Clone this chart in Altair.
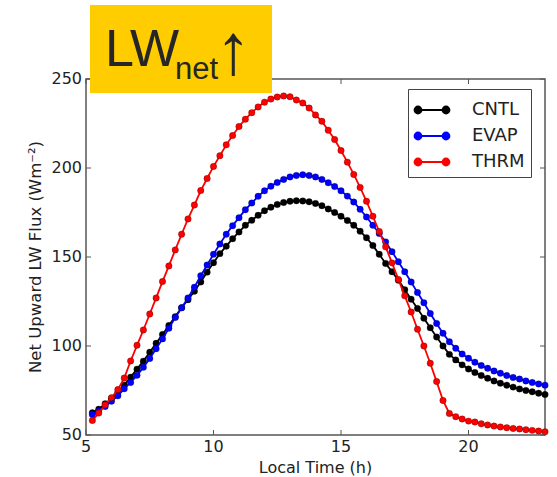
import altair as alt
import pandas as pd

# ---------------- data ----------------
hours = [5.25, 5.5, 5.75, 6.0, 6.25, 6.5, 6.75, 7.0, 7.25, 7.5, 7.75, 8.0,
         8.25, 8.5, 8.75, 9.0, 9.25, 9.5, 9.75, 10.0, 10.25, 10.5, 10.75, 11.0,
         11.25, 11.5, 11.75, 12.0, 12.25, 12.5, 12.75, 13.0, 13.25, 13.5, 13.75, 14.0,
         14.25, 14.5, 14.75, 15.0, 15.25, 15.5, 15.75, 16.0, 16.25, 16.5, 16.75, 17.0,
         17.25, 17.5, 17.75, 18.0, 18.25, 18.5, 18.75, 19.0, 19.25, 19.5, 19.75, 20.0,
         20.25, 20.5, 20.75, 21.0, 21.25, 21.5, 21.75, 22.0, 22.25, 22.5, 22.75, 23.0]

cntl = [62.5, 64.5, 67.5, 70.5, 74.0, 78.0, 82.5, 87.0, 91.5, 96.5, 101.5, 106.5,
        111.5, 116.5, 121.5, 126.0, 130.8, 136.0, 141.5, 146.8, 151.9, 156.1, 160.3, 164.1,
        167.8, 170.6, 173.4, 176.0, 178.0, 179.5, 180.6, 181.3, 181.6, 181.5, 181.0, 180.1,
        178.8, 177.0, 175.0, 172.9, 170.5, 167.8, 164.5, 160.8, 156.4, 151.5, 146.4, 141.7,
        137.0, 131.6, 126.3, 121.1, 115.6, 110.2, 105.0, 100.0, 95.3, 92.2, 89.4, 87.1,
        85.1, 83.4, 81.9, 80.4, 79.1, 78.0, 76.9, 75.9, 75.0, 74.3, 73.5, 72.7]

evap = [61.5, 63.5, 66.0, 69.0, 72.0, 76.0, 79.5, 83.5, 88.0, 93.0, 98.5, 104.0,
        110.0, 116.0, 121.5, 127.0, 133.0, 139.5, 145.5, 151.5, 157.3, 162.8, 167.6, 172.1,
        176.6, 180.3, 184.1, 187.2, 189.8, 191.9, 193.6, 195.0, 195.8, 196.2, 195.8, 195.0,
        193.6, 191.7, 189.6, 187.2, 184.2, 180.9, 176.8, 172.5, 167.8, 163.2, 158.5, 153.0,
        147.3, 141.7, 136.0, 130.0, 124.3, 118.3, 112.7, 107.1, 102.4, 98.7, 95.5, 93.1,
        90.9, 89.0, 87.5, 86.0, 84.7, 83.4, 82.3, 81.4, 80.4, 79.5, 78.7, 78.0]

thrm = [58.2, 62.3, 67.0, 71.0, 75.5, 82.0, 91.6, 100.4, 109.0, 118.0, 127.0, 136.2,
        145.0, 154.0, 162.8, 171.4, 179.2, 187.3, 194.1, 200.9, 206.9, 213.0, 218.2, 223.3,
        227.4, 231.1, 234.3, 237.0, 238.7, 239.9, 240.5, 240.0, 238.2, 236.5, 233.7, 229.8,
        226.2, 221.2, 216.0, 209.8, 203.3, 196.4, 189.1, 181.3, 172.9, 164.3, 155.7, 146.7,
        137.4, 128.2, 119.1, 109.4, 100.0, 90.3, 80.0, 69.4, 62.1, 60.3, 59.0, 57.8,
        57.3, 56.3, 55.6, 55.0, 54.5, 54.1, 53.7, 53.4, 53.0, 52.6, 52.2, 51.8]

series_names = ["CNTL", "EVAP", "THRM"]
series_colors = ["#000000", "#0000ff", "#ff0000"]
x_ticks = [5, 10, 15, 20]
y_ticks = [50, 100, 150, 200, 250]
x_title = "Local Time (h)"
y_title = "Net Upward LW Flux (Wm\u207b\u00b2)"
title_parts = ["LW", "net", "\u2191"]

# ---------------- layout ----------------
W, H = 459, 356
FRAME = "#555555"
TXT = "#222222"
FONT = "DejaVu Sans"

rows = []
for name, vals in zip(series_names, [cntl, evap, thrm]):
    for h, v in zip(hours, vals):
        rows.append({"hour": h, "flux": v, "series": name})
df = pd.DataFrame(rows)

xscale = alt.Scale(domain=[5, 23], nice=False, zero=False)
yscale = alt.Scale(domain=[50, 250], nice=False, zero=False)
cscale = alt.Scale(domain=series_names, range=series_colors)

leg_path = ("M-1,0L1,0"
            "M-1.25,0A0.25,0.25,0,1,0,-0.75,0A0.25,0.25,0,1,0,-1.25,0Z"
            "M0.75,0A0.25,0.25,0,1,0,1.25,0A0.25,0.25,0,1,0,0.75,0Z")

legend = alt.Legend(title=None, orient="none", legendX=322, legendY=10)

layers = []
for i, name in enumerate(series_names):
    base = alt.Chart(df).transform_filter(alt.datum.series == name)
    xenc = alt.X("hour:Q", scale=xscale, axis=None)
    yenc = alt.Y("flux:Q", scale=yscale, axis=None)
    layers.append(base.mark_line(strokeWidth=1.8).encode(
        x=xenc, y=yenc,
        stroke=alt.Stroke("series:N", scale=cscale, legend=legend)))
    layers.append(base.mark_point(filled=True, size=42, opacity=1,
                                  stroke="#000000", strokeWidth=0.5, strokeOpacity=0.5)
                  .encode(x=xenc, y=yenc,
                          fill=alt.Fill("series:N", scale=cscale, legend=legend)))

xt = pd.DataFrame({"t": x_ticks})
yt = pd.DataFrame({"t": y_ticks})
tick_style = dict(color=FRAME, strokeWidth=1)
ticks = [
    alt.Chart(xt).mark_rule(**tick_style).encode(
        x=alt.X("t:Q", scale=xscale, axis=None), y=alt.value(H), y2=alt.value(H - 5)),
    alt.Chart(xt).mark_rule(**tick_style).encode(
        x=alt.X("t:Q", scale=xscale, axis=None), y=alt.value(0), y2=alt.value(5)),
    alt.Chart(yt).mark_rule(**tick_style).encode(
        y=alt.Y("t:Q", scale=yscale, axis=None), x=alt.value(0), x2=alt.value(5)),
    alt.Chart(yt).mark_rule(**tick_style).encode(
        y=alt.Y("t:Q", scale=yscale, axis=None), x=alt.value(W - 5), x2=alt.value(W)),
]

# tick labels and axis titles (placed through the scales)
lab_style = dict(font=FONT, fontSize=16, color=TXT)
labels = [
    alt.Chart(xt).mark_text(align="center", baseline="middle", **lab_style).encode(
        x=alt.X("t:Q", scale=xscale, axis=None), y=alt.value(H + 12), text="t:Q"),
    alt.Chart(yt).mark_text(align="right", baseline="middle", **lab_style).encode(
        y=alt.Y("t:Q", scale=yscale, axis=None), x=alt.value(-4), text="t:Q"),
]
tdf_axes = pd.DataFrame({"label": [x_title, y_title]})
axis_titles = [
    alt.Chart(tdf_axes).transform_filter(alt.datum.label == x_title).mark_text(
        align="center", baseline="alphabetic", **lab_style).encode(
        x=alt.value(W / 2), y=alt.value(H + 38), text="label:N"),
    alt.Chart(tdf_axes).transform_filter(alt.datum.label == y_title).mark_text(
        align="center", baseline="alphabetic", angle=270, font=FONT, fontSize=16.5,
        color=TXT).encode(
        x=alt.value(-45), y=alt.value(H / 2), text="label:N"),
]

tdf = pd.DataFrame({"part": title_parts})
box = alt.Chart(tdf).transform_filter(alt.datum.part == title_parts[0]).mark_rect(
    color="#FFCC00").encode(x=alt.value(4), x2=alt.value(186), y=alt.value(-74), y2=alt.value(14))
t_lw = alt.Chart(tdf).transform_filter(alt.datum.part == title_parts[0]).mark_text(
    font="Liberation Sans", fontSize=52, align="left", baseline="alphabetic", color="#262626"
).encode(x=alt.value(19), y=alt.value(-13), text="part:N")
t_net = alt.Chart(tdf).transform_filter(alt.datum.part == title_parts[1]).mark_text(
    font="Liberation Sans", fontSize=31, align="left", baseline="alphabetic", color="#262626"
).encode(x=alt.value(89), y=alt.value(0), text="part:N")
t_arr = alt.Chart(tdf).transform_filter(alt.datum.part == title_parts[2]).mark_text(
    font="Liberation Sans", fontSize=72, align="left", baseline="alphabetic", color="#262626"
).encode(x=alt.value(129.5), y=alt.value(-5.5), text="part:N")

chart = alt.layer(*layers, *ticks, *labels, *axis_titles, box, t_lw, t_net, t_arr).properties(
    width=W, height=H,
    background="white",
    autosize=alt.AutoSizeParams(type="none"),
    padding={"left": 86, "top": 79, "right": 12, "bottom": 42},
).configure_view(
    stroke=FRAME, strokeWidth=1.5
).configure_legend(
    symbolType=leg_path, symbolSize=784, symbolStrokeWidth=1.8, symbolOffset=3,
    labelFont=FONT, labelFontSize=18, labelColor=TXT, labelOffset=25,
    strokeColor="#444444", fillColor="white", padding=6, rowPadding=2,
)

chart.save("out.html", embed_options={"renderer": "svg", "actions": False})
